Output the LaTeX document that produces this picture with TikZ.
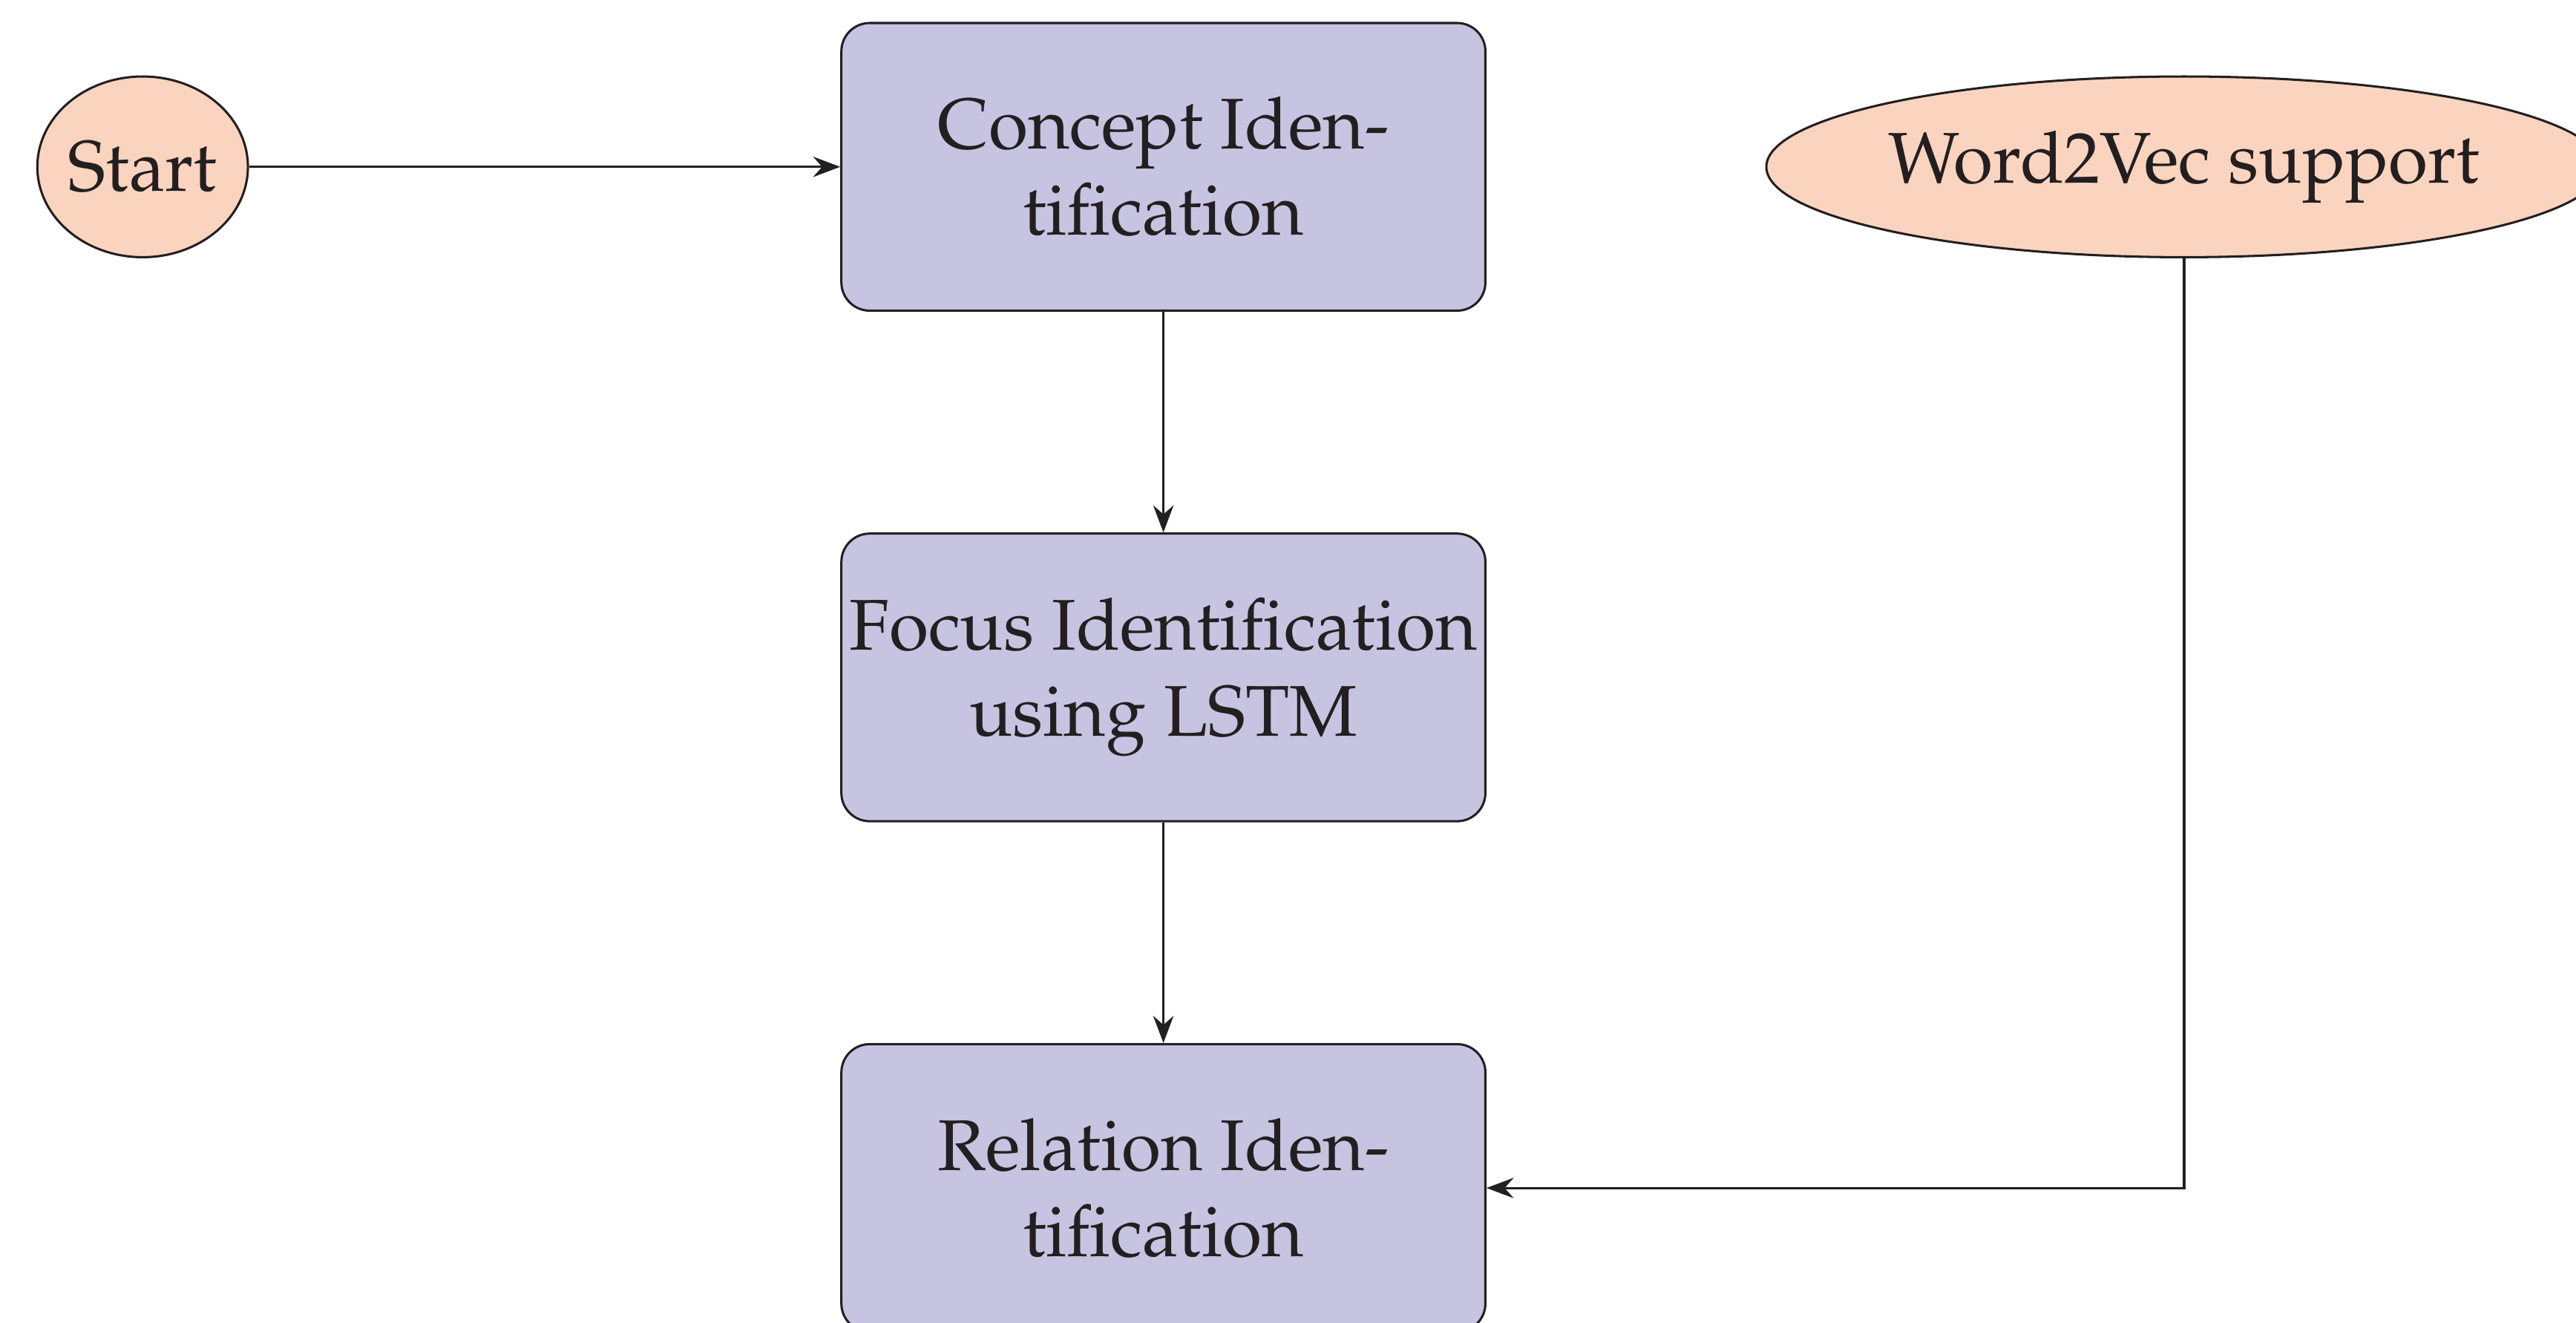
\documentclass[tikz,border=0pt]{standalone}
\usepackage[T1]{fontenc}
\usepackage{mathpazo}
\usepackage{tikz}
\usetikzlibrary{shapes.geometric,arrows.meta}

\definecolor{ovalfill}{RGB}{251,212,192}
\definecolor{boxfill}{RGB}{199,196,226}
\definecolor{inkline}{RGB}{35,31,32}

\begin{document}
\begin{tikzpicture}[node distance=3.17cm,
	every node/.style = {text=inkline, font=\fontsize{12.7}{15.2}\selectfont},
	process/.style = {draw=inkline, fill=boxfill, rectangle, rounded corners=5pt, minimum width=4cm, minimum height=1.786cm, inner sep=0.5pt, align=center},
	oval/.style = {draw=inkline, fill=ovalfill, ellipse, minimum height=1.122cm, inner sep=0pt},
	flow/.style = {draw=inkline, -{Stealth[length=4.8pt,width=3.6pt,inset=1.6pt]}}]
	\useasboundingbox (-7.226,1.036) rectangle (8.774,-7.175);
	\node[process] (concept) {Concept Iden-\\tification};
	\node[process] (focus) [below of=concept] {Focus Identification\\using LSTM};
	\node[process] (relation) [below of=focus] {Relation Iden-\\tification};
	\node[oval, minimum width=1.306cm] (start) [left of=concept, node distance=6.34cm] {Start};
	\node[oval, minimum width=5.18cm] (w2v) [right of=concept, node distance=6.34cm] {Word2Vec support};
	\draw[flow] (start) -- (concept);
	\draw[flow] (concept) -- (focus);
	\draw[flow] (focus) -- (relation);
	\draw[flow] (w2v.south) |- (relation.east);
\end{tikzpicture}
\end{document}
